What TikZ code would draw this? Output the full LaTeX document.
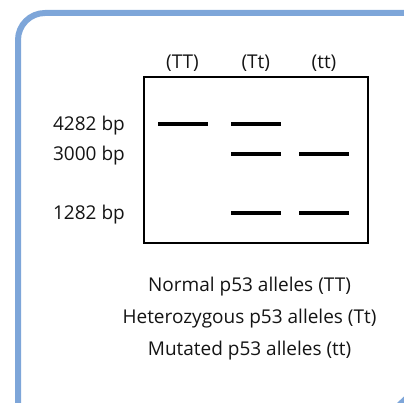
\documentclass[tikz,border=0pt]{standalone}
\usepackage{fontspec}
\setmainfont{Open Sans}
\definecolor{framblue}{HTML}{7EA6D9}
\definecolor{txtgray}{HTML}{141414}
\begin{document}
\begin{tikzpicture}[x=1pt,y=-1pt,
  lbl/.style={inner sep=0pt,font=\fontsize{19}{22}\selectfont,text=txtgray},
  band/.style={line width=4pt,black},
  gel/.style={draw=black,line width=1.6pt}]
\useasboundingbox (0,0) rectangle (404,403);
\draw[framblue,line width=6pt,rounded corners=27pt] (18,430) -- (18,13) -- (430,13);
\fill[framblue] (397,403) -- (404,403) -- (404,396.5) -- cycle;
\draw[gel] (144,77.3) rectangle (368,243.3);
% lane labels
\node[lbl,anchor=base] (lTT) at (182.5,68.5) {(TT)};
\node[lbl,anchor=base] (lTt) at (255.8,68.5) {(Tt)};
\node[lbl,anchor=base] (ltt) at (324,68.5) {(tt)};
% size labels
\node[lbl,anchor=base east] (s1) at (125,130.8) {4282 bp};
\node[lbl,anchor=base east] (s2) at (125,160.8) {3000 bp};
\node[lbl,anchor=base east] (s3) at (125,219.8) {1282 bp};
% bands
\draw[band] (158,124.3) -- (208,124.3);
\draw[band] (231,124.3) -- (281,124.3);
\draw[band] (231,154.3) -- (281,154.3);
\draw[band] (299,154.3) -- (349,154.3);
\draw[band] (231,213.3) -- (281,213.3);
\draw[band] (299,213.3) -- (349,213.3);
% captions
\node[lbl,anchor=base] (c1) at (249.5,291.7) {Normal p53 alleles (TT)};
\node[lbl,anchor=base] (c2) at (249.5,323.8) {Heterozygous p53 alleles (Tt)};
\node[lbl,anchor=base] (c3) at (249.5,355.5) {Mutated p53 alleles (tt)};
\end{tikzpicture}
\end{document}
